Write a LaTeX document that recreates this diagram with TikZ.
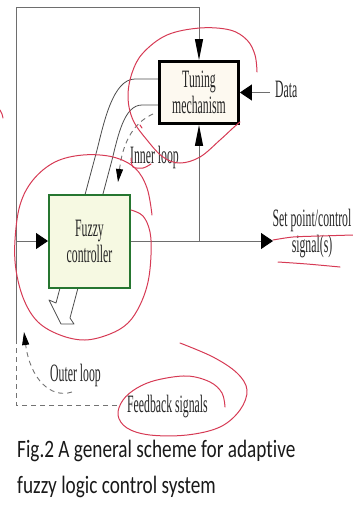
\documentclass[tikz,border=0pt]{standalone}
\usepackage{fontspec}
\usetikzlibrary{arrows.meta}
\newfontfamily\diag[FakeStretch=0.47]{Liberation Serif}
\newfontfamily\capfont[FakeStretch=0.77,Ligatures=NoCommon]{Carlito}
\definecolor{annot}{RGB}{214,58,84}
\definecolor{tunefill}{RGB}{253,249,240}
\definecolor{fuzzfill}{RGB}{246,249,226}
\definecolor{fuzzedge}{RGB}{38,118,48}
\definecolor{wiregray}{RGB}{110,110,110}
\tikzset{
  wire/.style={draw=wiregray, line width=0.9pt},
  vtip/.style={-{Triangle[length=21pt,width=8pt,color=black]}},
  htip/.style={-{Triangle[length=12pt,width=16pt,color=black]}},
  looptip/.style={-{Triangle[length=13pt,width=7pt,color=black]}},
  loopdash/.style={draw=black!55, line width=0.9pt, dash pattern=on 5pt off 4pt},
  bigarrow/.style={draw=black!70, line width=0.8pt, line join=round},
  note/.style={draw=annot, line width=1pt, line cap=round},
  lbl/.style={font=\diag\fontsize{25}{26}\selectfont, inner sep=0pt, text=black!85},
  caption/.style={font=\capfont\fontsize{25}{30}\selectfont, inner sep=0pt, text=black!90},
}
\begin{document}
\begin{tikzpicture}[x=1pt, y=-1pt]
\useasboundingbox (0,0) rectangle (353,506);

% corners of the signal paths
\coordinate (tl) at (16,7);
\coordinate (tr) at (199,7);
\coordinate (lin) at (16,241);
\coordinate (lb) at (16,340);
\coordinate (bl) at (16,405);
\coordinate (fbend) at (117,405);
\coordinate (br) at (199,241);
\coordinate (out) at (273,241);
\coordinate (din) at (270,92.5);

% hollow adaptation arrow running behind the controller
\draw[bigarrow] (158,79) -- (135,79) .. controls (113,79) and (104,122) .. (97,150)
  -- (56,303) -- (49,300) -- (61,324) -- (74,324) -- (70,318)
  -- (112,160) .. controls (118,136) and (124,105) .. (142,105) -- (158,105);

% blocks
\node[lbl, draw=black, line width=2.8pt, fill=tunefill, minimum width=79pt,
  minimum height=62pt, align=center] (tune) at (199,92.5) {Tuning\\mechanism};
\node[lbl, draw=fuzzedge, line width=2pt, fill=fuzzfill, minimum width=81pt,
  minimum height=93pt, align=center] (fuzzy) at (89.5,241) {Fuzzy\\controller};

% labels
\node[lbl, anchor=base west] (data) at (275,97) {Data};
\node[lbl, align=center] (sp) at (312,234) {Set point/control\\signal(s)};
\node[lbl, anchor=base west] (inner) at (130,163) {Inner loop};
\node[lbl, anchor=base west] (outer) at (50,381) {Outer loop};
\node[lbl, anchor=base west] (fb) at (127,412) {Feedback signals};

% signal paths
\draw[wire, vtip] (lb) -- (tl) -- (tr) -- (tune.north);
\draw[wire, htip] (lin) -- (fuzzy.west);
\draw[wire, htip] (fuzzy.east) -- (out);
\draw[wire, vtip] (br) -- (tune.south);
\draw[wire, htip] (din) -- (tune.east);
\draw[loopdash] (fbend) -- (bl) -- (lb);

% loop arcs
\draw[loopdash, looptip] (153,114) .. controls (135,122) and (123,140) .. (118,182);
\draw[loopdash, looptip] (72,392) .. controls (50,399) and (30,378) .. (24,332);

% caption
\node[caption, anchor=base west] (cap1) at (17,457) {Fig.2 A general scheme for adaptive};
\node[caption, anchor=base west] (cap2) at (17,493) {fuzzy logic control system};

% hand-drawn red markings
\draw[note] plot[smooth, tension=0.6] coordinates {(257,72) (255,55) (247,40) (230,30)
  (200,28) (167,35) (143,53) (132,73) (128,97) (133,120) (147,140) (163,157) (180,163)
  (200,157) (220,140) (233,128) (240,122)};
\draw[note] plot[smooth, tension=0.6] coordinates {(131,210) (143,216) (150,232) (151,255)
  (148,282) (140,305) (128,323) (110,334) (85,340) (60,335) (38,322) (24,300) (16,270)
  (15,240) (20,205) (33,180) (55,162) (83,155) (113,157) (135,168) (147,188) (152,215)};
\draw[note] plot[smooth, tension=0.6] coordinates {(180,343) (213,357) (237,373) (247,390)
  (240,410) (220,427) (187,435) (150,435) (127,428) (118,415) (123,400) (137,388)
  (157,380) (187,376) (210,382) (222,393) (225,407)};
\draw[note] plot[smooth] coordinates {(273,240) (293,237) (320,236) (353,235)};
\draw[note] plot[smooth] coordinates {(278,262) (307,264) (340,267)};
\draw[note] plot[smooth] coordinates {(131,158) (133,167) (143,168) (151,164)};
\draw[note] (140,125) -- (142,128);
\draw[note] plot[smooth] coordinates {(0,110) (2,114) (3,118)};
\end{tikzpicture}
\end{document}
